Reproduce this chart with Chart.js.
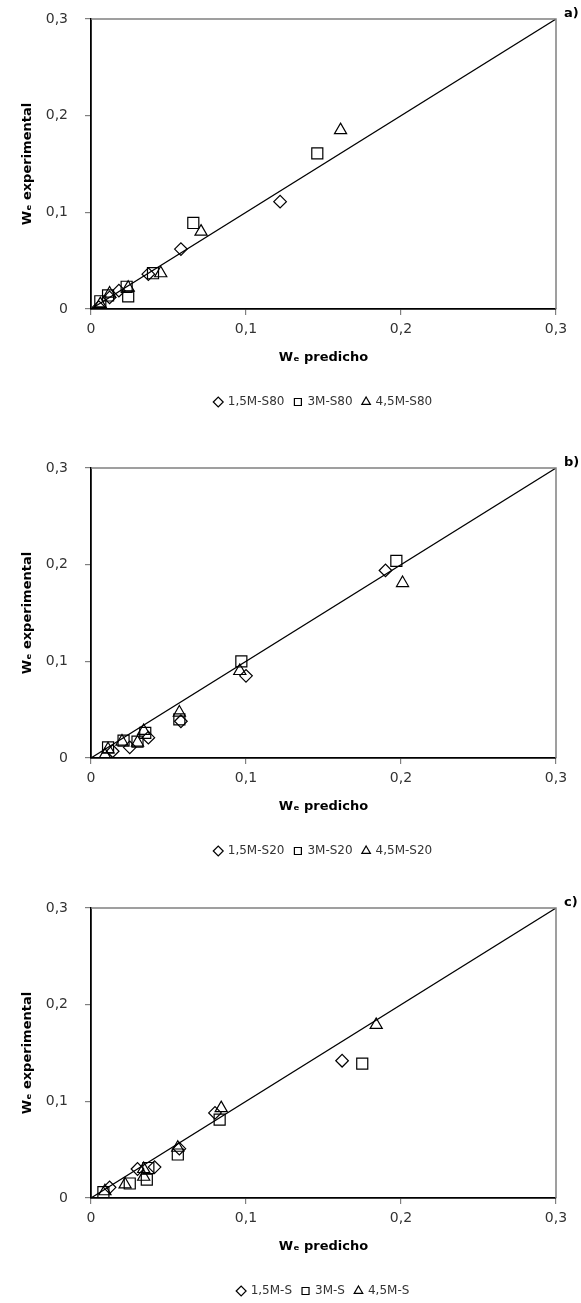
<!DOCTYPE html>
<html>
<head>
<meta charset="utf-8">
<script src="https://cdn.jsdelivr.net/npm/chart.js@4.4.0/dist/chart.umd.min.js"></script>
<style>
  body { margin: 0; background: #fff; }
  .box { position: absolute; left: 0; width: 581px; height: 418px; }
</style>
</head>
<body>
<div class="box" style="top:0px"><canvas id="chartA"></canvas></div>
<div class="box" style="top:449px"><canvas id="chartB"></canvas></div>
<div class="box" style="top:889px"><canvas id="chartC"></canvas></div>
<script>
// axis ticks (both axes) and the 1:1 reference line
let tickValues = [0, 0.1, 0.2, 0.3];
let diagX = [0, 0.3];
let diagY = [0, 0.3];

// a) S80
let aNames = ['1,5M-S80', '3M-S80', '4,5M-S80'];
let aDiamondX = [0.005, 0.012, 0.018, 0.037, 0.058, 0.122];
let aDiamondY = [0.002, 0.012, 0.019, 0.036, 0.062, 0.111];
let aSquareX = [0.006, 0.011, 0.023, 0.024, 0.040, 0.066, 0.146];
let aSquareY = [0.008, 0.014, 0.023, 0.013, 0.037, 0.089, 0.161];
let aTriX = [0.006, 0.012, 0.024, 0.045, 0.071, 0.161];
let aTriY = [0.005, 0.016, 0.022, 0.037, 0.080, 0.185];

// b) S20
let bNames = ['1,5M-S20', '3M-S20', '4,5M-S20'];
let bDiamondX = [0.014, 0.025, 0.037, 0.058, 0.100, 0.190];
let bDiamondY = [0.007, 0.011, 0.021, 0.038, 0.085, 0.194];
let bSquareX = [0.011, 0.021, 0.030, 0.035, 0.057, 0.097, 0.197];
let bSquareY = [0.011, 0.018, 0.017, 0.026, 0.040, 0.100, 0.204];
let bTriX = [0.009, 0.011, 0.020, 0.030, 0.034, 0.057, 0.096, 0.201];
let bTriY = [0.003, 0.009, 0.017, 0.016, 0.028, 0.047, 0.090, 0.181];

// c) S
let cNames = ['1,5M-S', '3M-S', '4,5M-S'];
let cDiamondX = [0.012, 0.030, 0.041, 0.057, 0.080, 0.162];
let cDiamondY = [0.011, 0.030, 0.032, 0.051, 0.088, 0.142];
let cSquareX = [0.008, 0.025, 0.036, 0.037, 0.056, 0.083, 0.175];
let cSquareY = [0.006, 0.015, 0.019, 0.031, 0.045, 0.081, 0.139];
let cTriX = [0.009, 0.022, 0.034, 0.034, 0.056, 0.084, 0.184];
let cTriY = [0.007, 0.014, 0.022, 0.030, 0.052, 0.093, 0.179];

let pts = (xs, ys) => xs.map((x, i) => ({ x: x, y: ys[i] }));
let fmt = (v) => v === 0 ? '0' : v.toFixed(1).replace('.', ',');

// gray frame on top/right + panel tag
let framePlugin = {
  id: 'frame',
  afterDatasetsDraw(chart, args, opts) {
    let a = chart.chartArea;
    let c = chart.ctx;
    c.save();
    c.strokeStyle = '#808080';
    c.lineWidth = 1.5;
    c.beginPath();
    c.moveTo(a.left, a.top);
    c.lineTo(a.right, a.top);
    c.lineTo(a.right, a.bottom);
    c.stroke();
    c.fillStyle = '#000';
    c.font = 'bold 13px "DejaVu Sans"';
    c.textBaseline = 'middle';
    c.fillText(opts.tag, a.right + 8, a.top - 5);
    c.restore();
  }
};

function scaleOpts(title, isX) {
  return {
    type: 'linear',
    min: 0,
    max: 0.3,
    afterBuildTicks: (s) => { s.ticks = tickValues.map(v => ({ value: v })); },
    afterFit: (s) => {
      if (isX) {
        s.height = 77;
        s.paddingLeft = 0;
        s.paddingRight = 0;
      } else {
        s.width = 91;
        s.paddingTop = 0;
        s.paddingBottom = 0;
      }
    },
    ticks: {
      color: '#333',
      font: { family: 'DejaVu Sans', size: 14 },
      padding: isX ? 6 : 17,
      callback: (v) => fmt(v)
    },
    grid: { drawOnChartArea: false, drawTicks: true, tickLength: 6, color: '#808080', lineWidth: 1.2 },
    border: { display: true, color: '#000', width: 1.8 },
    title: {
      display: true,
      text: title,
      color: '#000',
      font: { family: 'DejaVu Sans', size: 13, weight: 'bold' },
      padding: isX ? { top: 0, bottom: 21 } : { top: 20, bottom: 0 }
    }
  };
}

function makeChart(id, tag, names, series) {
  let styles = ['rectRot', 'rect', 'triangle'];
  let radii = [6.3, 7.8, 7];
  let sets = series.map((s, i) => ({
    label: names[i],
    data: pts(s[0], s[1]),
    pointStyle: styles[i],
    pointRadius: radii[i],
    pointHoverRadius: radii[i],
    pointBorderWidth: 1.2,
    pointBorderColor: '#000',
    pointBackgroundColor: 'rgba(0,0,0,0)',
    borderColor: '#000',
    backgroundColor: 'rgba(0,0,0,0)',
    showLine: false
  }));
  sets.push({
    type: 'line',
    label: 'diag',
    data: pts(diagX, diagY),
    borderColor: '#000',
    borderWidth: 1.2,
    pointRadius: 0,
    fill: false
  });

  return new Chart(document.getElementById(id), {
    type: 'scatter',
    data: { datasets: sets },
    options: {
      responsive: true,
      maintainAspectRatio: false,
      animation: false,
      layout: { padding: { top: 19, right: 25, left: 0, bottom: 0 } },
      scales: {
        x: scaleOpts('Wₑ predicho', true),
        y: scaleOpts('Wₑ experimental', false)
      },
      plugins: {
        frame: { tag: tag },
        tooltip: { enabled: false },
        legend: {
          position: 'bottom',
          fullSize: false,
          labels: {
            usePointStyle: true,
            boxWidth: 7,
            boxHeight: 7,
            padding: 10,
            color: '#333',
            font: { family: 'DejaVu Sans', size: 12 },
            filter: (item) => item.text !== 'diag'
          }
        }
      }
    },
    plugins: [framePlugin]
  });
}

makeChart('chartA', 'a)', aNames, [[aDiamondX, aDiamondY], [aSquareX, aSquareY], [aTriX, aTriY]]);
makeChart('chartB', 'b)', bNames, [[bDiamondX, bDiamondY], [bSquareX, bSquareY], [bTriX, bTriY]]);
makeChart('chartC', 'c)', cNames, [[cDiamondX, cDiamondY], [cSquareX, cSquareY], [cTriX, cTriY]]);
</script>
</body>
</html>
